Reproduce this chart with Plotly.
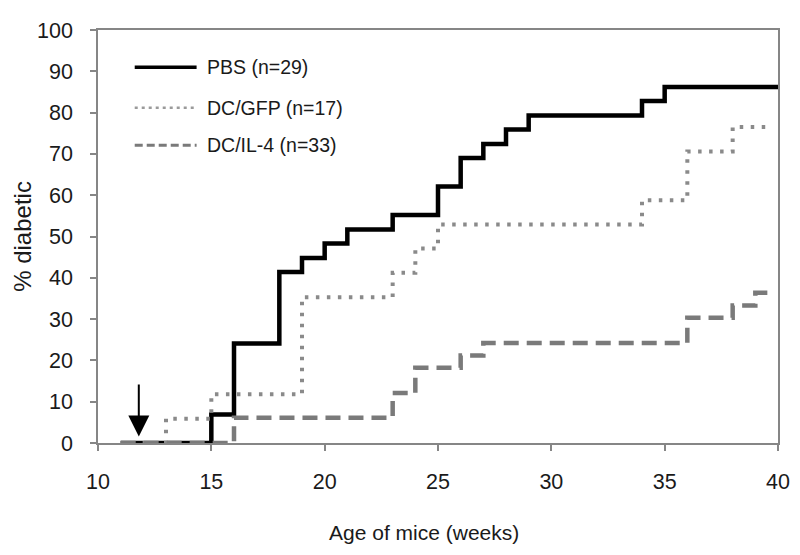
import plotly.graph_objects as go

# ---- data ----
pbs_weeks = [11, 15, 16, 18, 19, 20, 21, 23, 25, 26, 27, 28, 29, 34, 35, 40]
pbs_pct = [0, 6.9, 24.1, 41.4, 44.8, 48.3, 51.7, 55.2, 62.1, 69.0, 72.4, 75.9, 79.3, 82.8, 86.2, 86.2]

gfp_weeks = [11, 13, 15, 19, 23, 24, 25, 34, 36, 38, 39.6]
gfp_pct = [0, 5.9, 11.8, 35.3, 41.2, 47.1, 52.9, 58.8, 70.6, 76.5, 76.5]

il4_weeks = [11, 16, 23, 24, 26, 27, 36, 38, 39, 39.6]
il4_pct = [0, 6.1, 12.1, 18.2, 21.2, 24.2, 30.3, 33.3, 36.4, 36.4]

series_names = ["PBS (n=29)", "DC/GFP (n=17)", "DC/IL-4 (n=33)"]
x_ticks = [10, 15, 20, 25, 30, 35, 40]
y_ticks = [0, 10, 20, 30, 40, 50, 60, 70, 80, 90, 100]

# arrow marking treatment start
arrow_week = 11.8
arrow_from, arrow_to = 14.5, 1.6

FONT = "Liberation Sans, Arial, sans-serif"
TXT = "#1a1a1a"
styles = [
    dict(color="#000000", width=4.5, dash="solid"),
    dict(color="#8a8a8a", width=4, dash="3.5px,7.5px"),
    dict(color="#7a7a7a", width=4.5, dash="15px,8px"),
]
legend_styles = [
    dict(color="#000000", width=3.5, dash="solid"),
    dict(color="#9a9a9a", width=2.5, dash="3px,4px"),
    dict(color="#7a7a7a", width=3.2, dash="8px,4px"),
]

fig = go.Figure()
for xs, ys, st, nm in zip([pbs_weeks, gfp_weeks, il4_weeks],
                          [pbs_pct, gfp_pct, il4_pct], styles, series_names):
    fig.add_trace(go.Scatter(x=xs, y=ys, mode="lines", line_shape="hv",
                             line=st, name=nm, showlegend=False,
                             hoverinfo="x+y+name"))

# manual legend (line sample + label), positioned in paper coordinates
leg_rows = [0.91, 0.812, 0.721]
for row, st, nm in zip(leg_rows, legend_styles, series_names):
    fig.add_shape(type="line", xref="paper", yref="paper",
                  x0=0.054, x1=0.145, y0=row, y1=row, line=st)
    fig.add_annotation(xref="paper", yref="paper", x=0.157, y=row,
                       text=nm, showarrow=False, xanchor="left", yanchor="middle",
                       font=dict(family=FONT, size=19.5, color=TXT))

fig.add_annotation(x=arrow_week, y=arrow_to, ax=arrow_week, ay=arrow_from,
                   xref="x", yref="y", axref="x", ayref="y",
                   showarrow=True, arrowhead=2, arrowsize=2.1, arrowwidth=2,
                   arrowcolor="#000000", text="")

# axis titles
fig.add_annotation(xref="paper", yref="paper", x=0.48, y=-0.2176,
                   text="Age of mice (weeks)", showarrow=False,
                   xanchor="center", yanchor="middle",
                   font=dict(family=FONT, size=21, color=TXT))
fig.add_annotation(xref="paper", yref="paper", x=-0.1113, y=0.5,
                   text="% diabetic", showarrow=False, textangle=-90,
                   xanchor="center", yanchor="middle",
                   font=dict(family=FONT, size=24, color=TXT))

axis_common = dict(showline=True, linecolor="#868686", linewidth=1.5,
                   mirror=True, ticks="outside", tickcolor="#868686",
                   ticklen=6, tickwidth=1.5, showgrid=False, zeroline=False,
                   tickfont=dict(family=FONT, size=21.5, color=TXT))
fig.update_xaxes(range=[10, 40], tickvals=x_ticks, ticklabelstandoff=12, **axis_common)
fig.update_yaxes(range=[0, 100], tickvals=y_ticks, ticklabelstandoff=13, **axis_common)

# page body adds an 8px offset, so the figure is 8px smaller than the window
fig.update_layout(width=792, height=547, margin=dict(l=90, r=19, t=10.5, b=112),
                  paper_bgcolor="white", plot_bgcolor="white",
                  font=dict(family=FONT))

fig.write_html("out.html")
